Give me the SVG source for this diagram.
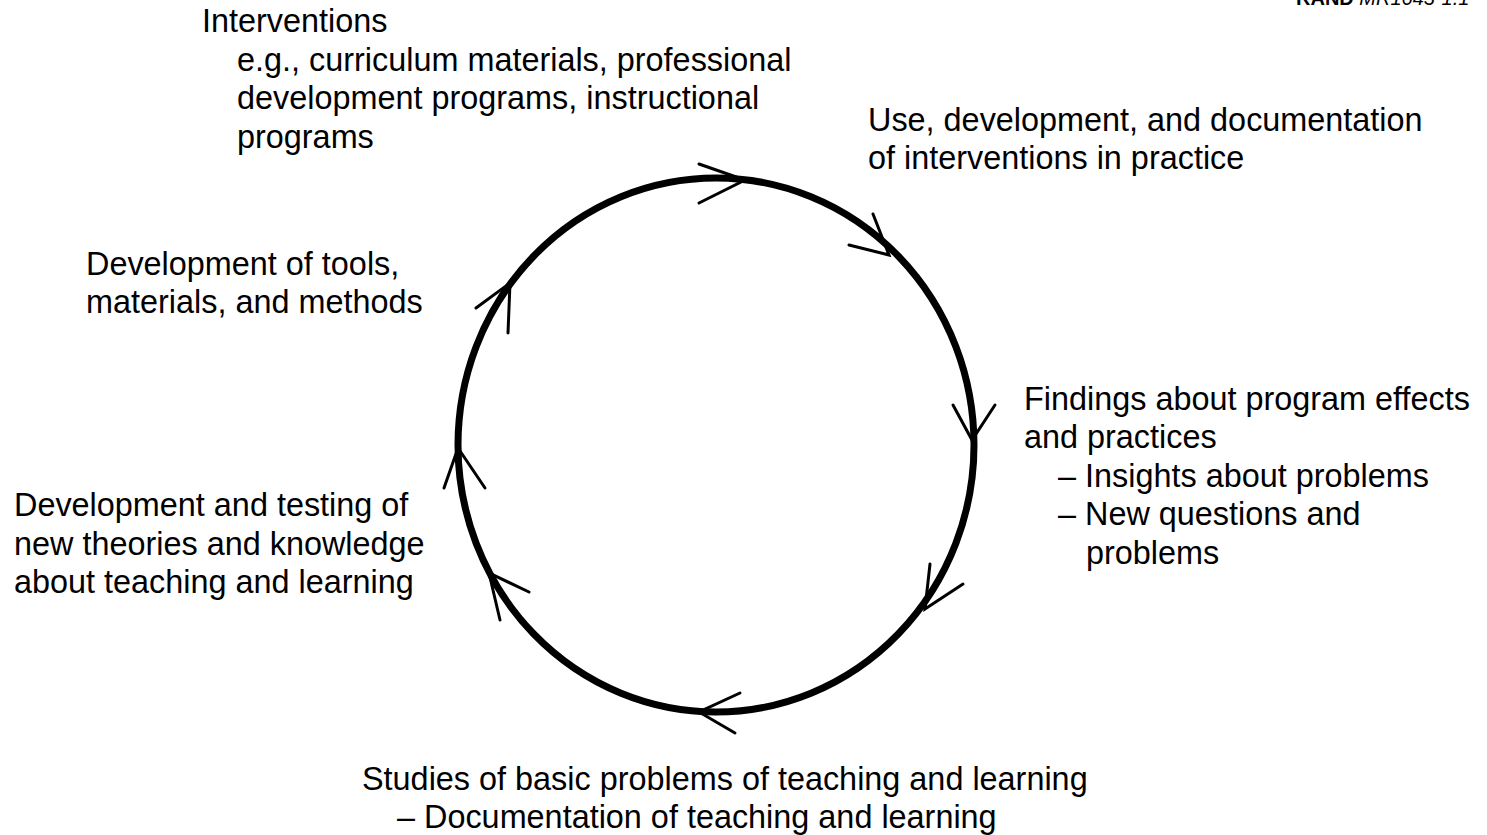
<svg xmlns="http://www.w3.org/2000/svg" width="1487" height="835" viewBox="0 0 1487 835">
<style>
text{font-family:"Liberation Sans",Arial,sans-serif;font-size:32.4px;fill:#000}
.cyc{fill:none;stroke:#000;stroke-width:7}
.ah{fill:none;stroke:#000;stroke-width:3;stroke-linecap:round;stroke-linejoin:miter}
</style>
<rect width="1487" height="835" fill="#fff"/>
<text x="1296" y="5" style="font-size:20px"><tspan font-weight="bold">RAND</tspan> <tspan font-style="italic">MR1643-1.1</tspan></text>
<g id="connectors">
<ellipse class="cyc" cx="716" cy="445" rx="258" ry="267"/>
<polyline class="ah" points="699,164 745,180 699,203"/>
<polyline class="ah" points="873,214 889,255 849,245"/>
<polyline class="ah" points="953,405 972,440 995,405"/>
<polyline class="ah" points="930,564 925,609 963,584"/>
<polyline class="ah" points="740,693 699,712 735,733"/>
<polyline class="ah" points="529,592 489,573 500,620"/>
<polyline class="ah" points="444,488 458,448 485,488"/>
<polyline class="ah" points="476,308 510,283 508,333"/>
</g>
<g id="node-interventions">
<text x="202" y="32">Interventions</text>
<text x="237" y="71">e.g., curriculum materials, professional</text>
<text x="237" y="109">development programs, instructional</text>
<text x="237" y="148">programs</text>
</g>
<g id="node-use">
<text x="868" y="131">Use, development, and documentation</text>
<text x="868" y="169">of interventions in practice</text>
</g>
<g id="node-findings">
<text x="1024" y="410">Findings about program effects</text>
<text x="1024" y="448">and practices</text>
<text x="1058" y="487">– Insights about problems</text>
<text x="1058" y="525">– New questions and</text>
<text x="1086" y="564">problems</text>
</g>
<g id="node-studies">
<text x="362" y="790">Studies of basic problems of teaching and learning</text>
<text x="397" y="828">– Documentation of teaching and learning</text>
</g>
<g id="node-theories">
<text x="14" y="516">Development and testing of</text>
<text x="14" y="555">new theories and knowledge</text>
<text x="14" y="593">about teaching and learning</text>
</g>
<g id="node-tools">
<text x="86" y="275">Development of tools,</text>
<text x="86" y="313">materials, and methods</text>
</g>
</svg>
